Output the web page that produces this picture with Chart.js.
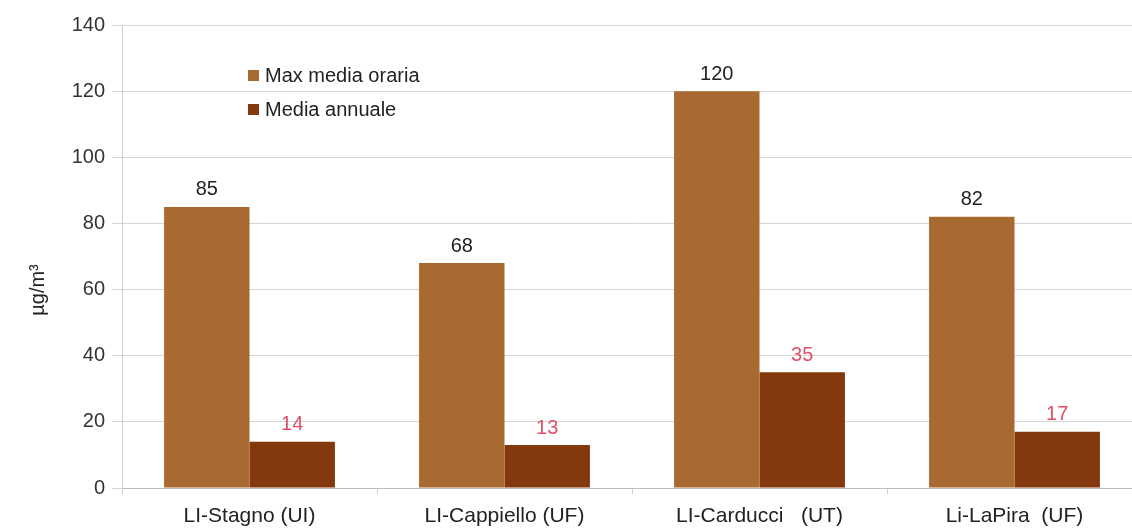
<!DOCTYPE html>
<html>
<head>
<meta charset="utf-8">
<script src="https://cdn.jsdelivr.net/npm/chart.js@4"></script>
<style>
  html, body { margin: 0; padding: 0; background: #fff; overflow: hidden; }
  #wrap { width: 1142px; height: 529px; }
</style>
</head>
<body>
<div id="wrap"><canvas id="myChart" width="1142" height="529"></canvas></div>
<script>
var stations = ['LI-Stagno (UI)', 'LI-Cappiello (UF)', 'LI-Carducci   (UT)', 'Li-LaPira  (UF)'];
var maxHourly = [85, 68, 120, 82];
var annualMean = [14, 13, 35, 17];
var seriesNames = ['Max media oraria', 'Media annuale'];
var yTicks = [0, 20, 40, 60, 80, 100, 120, 140];
var yTitle = 'µg/m³';

var fontFamily = '"Liberation Sans", Arial, sans-serif';

// value labels above the bars
var barValues = {
    id: 'barValues',
    afterDatasetsDraw: function (chart) {
        var ctx = chart.ctx;
        ctx.save();
        ctx.font = '20px ' + fontFamily;
        ctx.textAlign = 'center';
        ctx.textBaseline = 'bottom';
        chart.data.datasets.forEach(function (ds, i) {
            ctx.fillStyle = ds.labelColor;
            chart.getDatasetMeta(i).data.forEach(function (bar, j) {
                ctx.fillText(ds.data[j], bar.x, bar.y - 7);
            });
        });
        ctx.restore();
    }
};

// legend drawn inside the plot area, plus the y axis title
var innerLegend = {
    id: 'innerLegend',
    afterDraw: function (chart) {
        var ctx = chart.ctx;
        var x = 248, y = 76;
        ctx.save();
        ctx.font = '20px ' + fontFamily;
        ctx.textBaseline = 'middle';
        chart.data.datasets.forEach(function (ds, i) {
            ctx.fillStyle = ds.backgroundColor;
            ctx.fillRect(x, y + i * 34 - 6, 11, 11);
            ctx.fillStyle = '#222';
            ctx.fillText(ds.label, x + 17, y + i * 34);
        });
        ctx.translate(38, 290);
        ctx.rotate(-Math.PI / 2);
        ctx.textAlign = 'center';
        ctx.fillStyle = '#222';
        ctx.fillText(yTitle, 0, 0);
        ctx.restore();
    }
};

var config = {
    type: 'bar',
    data: {
        labels: stations,
        datasets: [
            {
                label: seriesNames[0],
                data: maxHourly,
                backgroundColor: '#a96a31',
                labelColor: '#222',
                categoryPercentage: 0.67,
                barPercentage: 1
            },
            {
                label: seriesNames[1],
                data: annualMean,
                backgroundColor: '#84390d',
                labelColor: '#e0506a',
                categoryPercentage: 0.67,
                barPercentage: 1
            }
        ]
    },
    options: {
        responsive: false,
        animation: false,
        layout: { padding: { top: 25, left: 0, right: 0, bottom: 0 } },
        plugins: {
            legend: { display: false },
            tooltip: { enabled: false }
        },
        scales: {
            x: {
                grid: { drawOnChartArea: false, drawTicks: true, tickLength: 6, color: '#cfcfcf' },
                border: { color: '#bdbdbd' },
                ticks: { color: '#222', font: { size: 21, family: fontFamily }, padding: 10, maxRotation: 0 },
                afterFit: function (scale) { scale.height = 41; }
            },
            y: {
                min: 0,
                max: 140,
                afterBuildTicks: function (scale) {
                    scale.ticks = yTicks.map(function (v) { return { value: v }; });
                },
                grid: { color: '#d4d4d4', tickLength: 10 },
                border: { color: '#cfcfcf' },
                ticks: { color: '#333', font: { size: 20, family: fontFamily }, padding: 7 },
                afterFit: function (scale) { scale.width = 122; }
            }
        }
    },
    plugins: [barValues, innerLegend]
};

var myChart = new Chart(document.querySelector('#myChart').getContext('2d'), config);
</script>
</body>
</html>
